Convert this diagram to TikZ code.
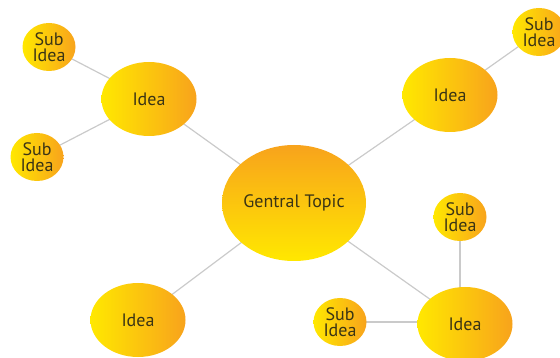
\documentclass[tikz,border=0pt]{standalone}
\usepackage{fontspec}
\setmainfont{PT Sans}
\usepackage{tikz}
\usetikzlibrary{shapes.geometric,backgrounds}
\definecolor{sun}{HTML}{FFE800}
\definecolor{amber}{HTML}{F8A31C}
\definecolor{ink}{HTML}{3A3415}
\definecolor{wire}{HTML}{CACACA}
\tikzset{
  bubble/.style={ellipse, inner sep=0pt, align=center, text=ink, font=\fontsize{18}{16.5}\selectfont},
  topic/.style={bubble, top color=amber, bottom color=sun, minimum width=144pt, minimum height=116pt},
  idea/.style={bubble, left color=sun, right color=amber, minimum width=95pt, minimum height=74pt},
  sub/.style={bubble, left color=sun, right color=amber, minimum width=53pt, minimum height=48pt},
  link/.style={draw=wire, line width=1.2pt}
}

\begin{document}
\begin{tikzpicture}[x=1pt,y=-1pt]
\useasboundingbox (0,0) rectangle (560,358);
\node[topic] (gt) at (294,203) {Gentral Topic};
\node[idea] (i1) at (149,99) {Idea};
\node[idea] (i2) at (450,95) {Idea};
\node[idea] (i3) at (138,320) {Idea};
\node[idea] (i4) at (465,324) {Idea};
\node[sub] (s1) at (49,47) {Sub\\Idea};
\node[sub] (s2) at (37,157) {Sub\\Idea};
\node[sub] (s3) at (539,32) {Sub\\Idea};
\node[sub] (s4) at (460,217) {Sub\\Idea};
\node[sub] (s5) at (340,322) {Sub\\Idea};
\begin{scope}[on background layer]
\draw[link] (gt.center) -- (i1.center);
\draw[link] (gt.center) -- (i2.center);
\draw[link] (gt.center) -- (i3.center);
\draw[link] (gt.center) -- (i4.center);
\draw[link] (i1.center) -- (s1.center);
\draw[link] (i1.center) -- (s2.center);
\draw[link] (i2.center) -- (s3.center);
\draw[link] (s4.center) -- (s4 |- i4);
\draw[link] (s5.center) -- (s5 -| i4);
\end{scope}
\end{tikzpicture}
\end{document}
